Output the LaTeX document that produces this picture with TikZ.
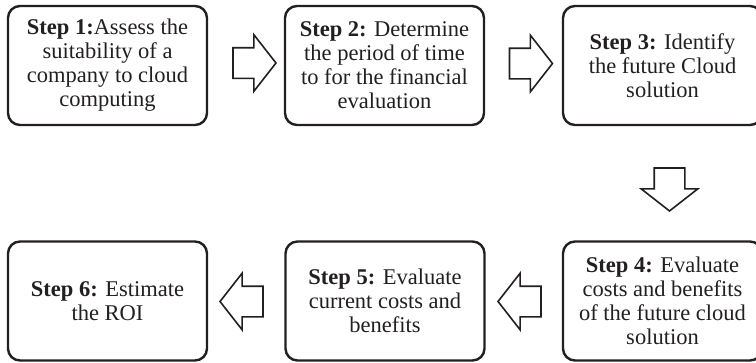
\documentclass[tikz,border=0pt]{standalone}
\usepackage{fontspec}
\setmainfont{Liberation Serif}
\usetikzlibrary{shapes.arrows}
\usetikzlibrary{arrows.meta}

\definecolor{inkgray}{HTML}{231F20}

\tikzset{
  stepbox/.style={draw=inkgray, line width=2.4pt, rounded corners=12pt,
    minimum width=199pt, minimum height=119pt, align=center, inner sep=0pt,
    text=inkgray, font=\fontsize{22.5}{24}\selectfont},
  blockarrow/.style={single arrow, draw=inkgray, fill=white, line width=1.6pt,
    minimum width=55pt, minimum height=43pt, single arrow head extend=13pt,
    single arrow tip angle=104, inner xsep=0pt, inner ysep=14.5pt},
  downarrow/.style={blockarrow, shape border rotate=270, inner xsep=14.5pt, inner ysep=0pt}
}

\begin{document}
\begin{tikzpicture}[x=1pt, y=-1pt]
        \useasboundingbox (0,0) rectangle (756,362);

        % top row
        \node[stepbox] (s1) at (107.5,65.5) {\textbf{Step 1:}Assess the\\suitability of a\\company to cloud\\computing};
        \node[stepbox] (s2) at (384.5,65.5) {\textbf{Step 2:} Determine\\the period of time\\to for the financial\\evaluation};
        \node[stepbox] (s3) at (662.5,65.5) {\textbf{Step 3:} Identify\\the future Cloud\\solution};

        % bottom row
        \node[stepbox] (s4) at (662.5,301) {\textbf{Step 4:} Evaluate\\costs and benefits\\of the future cloud\\solution};
        \node[stepbox] (s5) at (385,301) {\textbf{Step 5:} Evaluate\\current costs and\\benefits};
        \node[stepbox] (s6) at (107.5,301) {\textbf{Step 6:} Estimate\\the ROI};

        % block arrows between the steps
        \node[blockarrow] (a12) at (248.5,63) {};
        \node[blockarrow] (a23) at (525,63.5) {};
        \node[downarrow] (a34) at (669.5,183.5) {};
        \node[blockarrow, shape border rotate=180] (a45) at (525.5,301.5) {};
        \node[blockarrow, shape border rotate=180] (a56) at (247.5,301.5) {};
      \end{tikzpicture}
\end{document}
